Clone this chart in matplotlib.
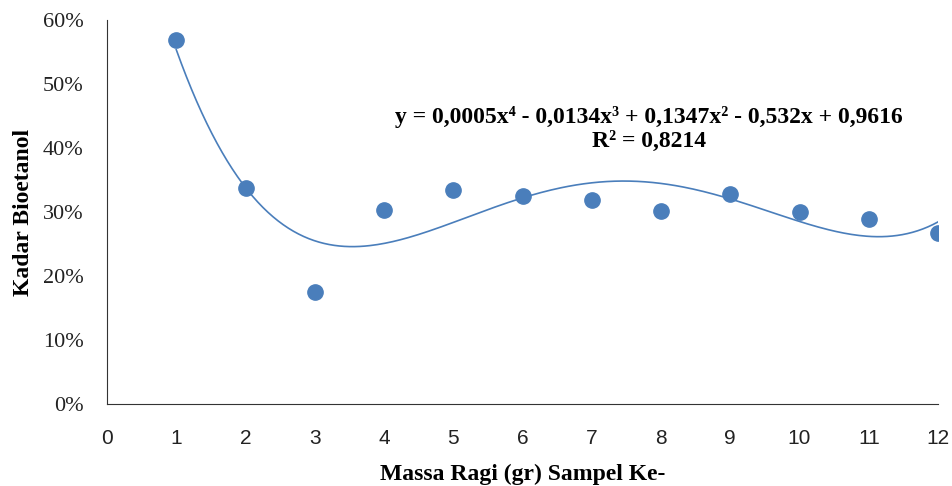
import numpy as np
import matplotlib
matplotlib.use("Agg")
import matplotlib.pyplot as plt
from matplotlib.ticker import PercentFormatter

# -------------------------------
# Data
# -------------------------------
sampel = [1, 2, 3, 4, 5, 6, 7, 8, 9, 10, 11, 12]
kadar = [0.569, 0.338, 0.176, 0.304, 0.335, 0.326, 0.319, 0.302, 0.328, 0.300, 0.289, 0.267]
x_ticks = list(range(0, 13))
y_ticks = [0.0, 0.1, 0.2, 0.3, 0.4, 0.5, 0.6]
eq_text = "y = 0,0005x\u2074 - 0,0134x\u00b3 + 0,1347x\u00b2 - 0,532x + 0,9616\nR\u00b2 = 0,8214"

blue = "#4A7EBB"
serif = ["Liberation Serif", "DejaVu Serif"]

fig = plt.figure(figsize=(9.53, 4.86), dpi=100)
ax = fig.add_axes([0.1123, 0.168, 0.872, 0.790])

# scatter points
ax.plot(sampel, kadar, linestyle="none", marker="o", markersize=11,
        color=blue, markeredgecolor=blue, zorder=3)

# 4th order polynomial trendline
coef = np.polyfit(sampel, kadar, 4)
xs = np.linspace(min(sampel), max(sampel), 300)
ax.plot(xs, np.polyval(coef, xs), color=blue, linewidth=1.2, zorder=2)

ax.set_xlim(0, 12)
ax.set_ylim(0, 0.6)
ax.set_xticks(x_ticks)
ax.set_yticks(y_ticks)
ax.yaxis.set_major_formatter(PercentFormatter(1.0, decimals=0))
ax.tick_params(axis="y", length=0, pad=17)
ax.tick_params(axis="x", length=0, pad=18)
for lbl in ax.get_yticklabels():
    lbl.set_fontfamily(serif)
    lbl.set_fontsize(16)
    lbl.set_color("#222222")
for lbl in ax.get_xticklabels():
    lbl.set_fontfamily(["Liberation Sans", "DejaVu Sans"])
    lbl.set_fontsize(15)
    lbl.set_color("#222222")

ax.spines["top"].set_visible(False)
ax.spines["right"].set_visible(False)
ax.spines["left"].set_color("#333333")
ax.spines["bottom"].set_color("#333333")

ax.set_xlabel("Massa Ragi (gr) Sampel Ke-", fontfamily=serif, fontweight="bold",
              fontsize=17, labelpad=11)
ax.set_ylabel("Kadar Bioetanol", fontfamily=serif, fontweight="bold",
              fontsize=17, labelpad=6)

ax.text(7.83, 0.43, eq_text, ha="center", va="center", fontfamily=serif,
        fontweight="bold", fontsize=17, linespacing=1.15)

fig.savefig("out.png", dpi=100)
